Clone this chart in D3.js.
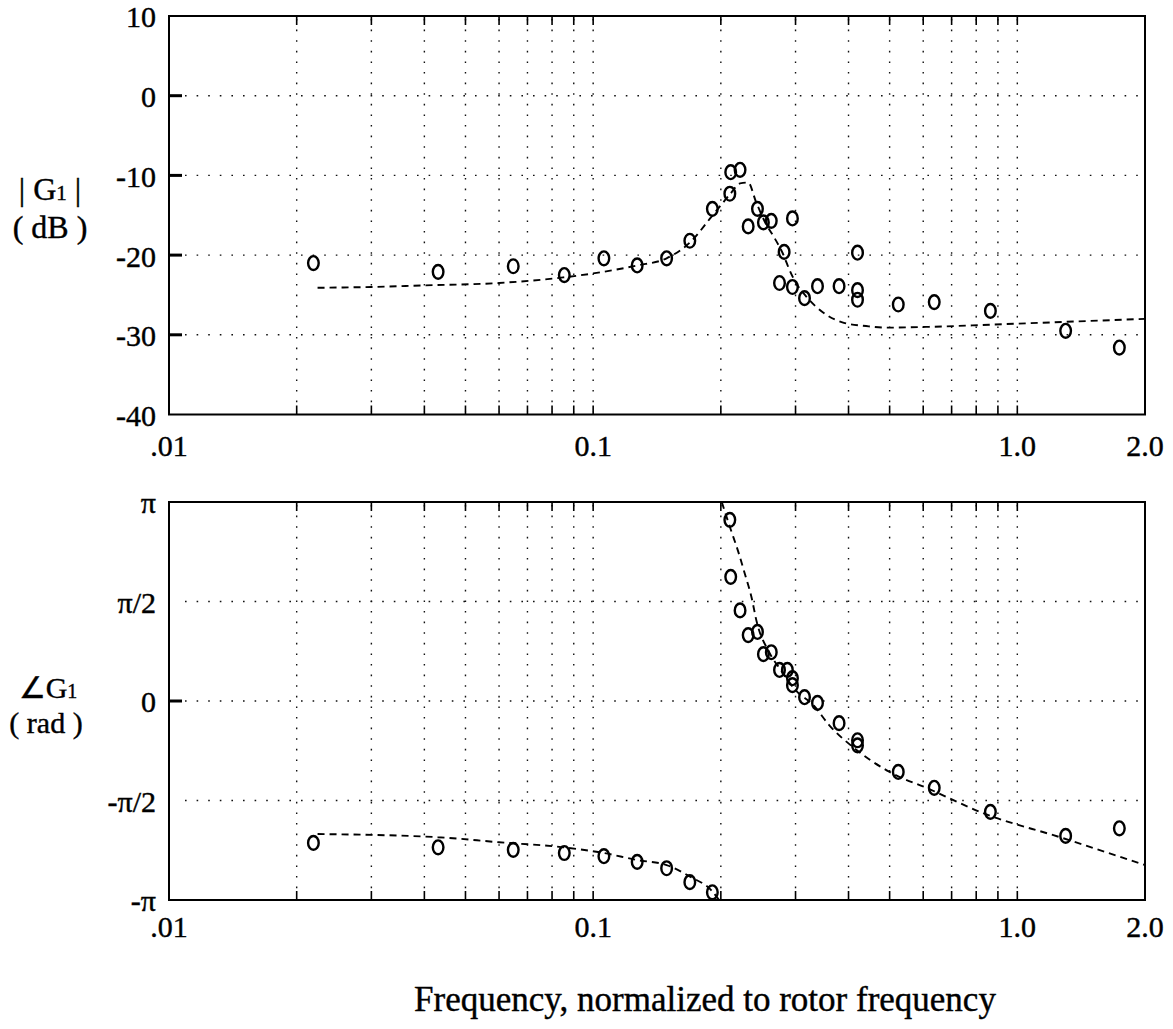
<!DOCTYPE html>
<html>
<head>
<meta charset="utf-8">
<script src="https://cdn.jsdelivr.net/npm/d3@7"></script>
<style>
    body { margin: 0; background: #fff; }
    text { font-family: "Liberation Serif", "Times New Roman", serif; fill: #000; stroke: #000; stroke-width: 0.4px; }
</style>
</head>
<body>
<svg id="chart" width="1173" height="1029"></svg>
<script>
// measured magnitude points
const magFreq = [0.0219, 0.0431, 0.0648, 0.0855, 0.106, 0.127, 0.149, 0.169, 0.191, 0.210, 0.211, 0.222,
    0.232, 0.244, 0.252, 0.263, 0.295, 0.282, 0.275, 0.295, 0.315, 0.338, 0.380, 0.42, 0.42, 0.42,
    0.524, 0.637, 0.864, 1.30, 1.74];
const magDb = [-21.0, -22.1, -21.4, -22.5, -20.4, -21.3, -20.4, -18.2, -14.2, -12.3, -9.6, -9.3,
    -16.4, -14.2, -15.9, -15.7, -15.4, -19.6, -23.5, -24.0, -25.4, -23.9, -23.9, -19.7, -24.4, -25.6,
    -26.2, -25.9, -27.0, -29.5, -31.6];

// model curve, magnitude
const magFitFreq = [0.0224, 0.03, 0.04, 0.06, 0.085, 0.1, 0.127, 0.149, 0.17, 0.19, 0.21, 0.222, 0.232,
    0.242, 0.255, 0.268, 0.28, 0.29, 0.30, 0.318, 0.355, 0.39, 0.44, 0.49, 0.62, 1.0, 2.0];
const magFitDb = [-24.1, -24.0, -23.8, -23.5, -22.8, -22.3, -21.3, -20.4, -18.3, -15.2, -12.4, -11.0, -10.9,
    -13.3, -16.0, -17.9, -19.8, -21.8, -23.4, -25.2, -27.5, -28.5, -28.9, -29.1, -29.0, -28.6, -28.0];

// measured phase points
const phaseFreq = [0.0219, 0.0431, 0.0648, 0.0855, 0.106, 0.127, 0.149, 0.169, 0.191,
    0.210, 0.211, 0.222, 0.232, 0.244, 0.252, 0.263, 0.275, 0.287, 0.295, 0.295, 0.315, 0.338,
    0.380, 0.42, 0.42, 0.524, 0.637, 0.864, 1.30, 1.74];
const phaseRad = [-2.24, -2.31, -2.35, -2.40, -2.45, -2.54, -2.64, -2.86, -3.02,
    2.86, 1.96, 1.43, 1.04, 1.09, 0.74, 0.77, 0.49, 0.49, 0.36, 0.25, 0.06, -0.03,
    -0.35, -0.62, -0.70, -1.12, -1.37, -1.75, -2.13, -2.01];

// model curve, phase (two branches, wrapped at -pi / +pi)
const phaseFitLowFreq = [0.0224, 0.043, 0.06, 0.085, 0.106, 0.127, 0.149, 0.17, 0.19, 0.198];
const phaseFitLowRad = [-2.10, -2.15, -2.23, -2.31, -2.40, -2.51, -2.59, -2.78, -2.99, -3.1416];
const phaseFitHighFreq = [0.201, 0.21, 0.22, 0.228, 0.236, 0.243, 0.26, 0.277, 0.30, 0.33, 0.36, 0.41,
    0.50, 0.62, 0.83, 1.26, 2.0];
const phaseFitHighRad = [3.1416, 2.75, 2.35, 2.0, 1.65, 1.25, 0.77, 0.49, 0.17, -0.06, -0.38, -0.73,
    -1.12, -1.39, -1.77, -2.15, -2.59];

// axes
const xMajorTicks = [0.01, 0.1, 1.0, 2.0];
const xMajorLabels = ['.01', '0.1', '1.0', '2.0'];
const xMinorTicks = [0.02, 0.03, 0.04, 0.05, 0.06, 0.07, 0.08, 0.09, 0.1,
    0.2, 0.3, 0.4, 0.5, 0.6, 0.7, 0.8, 0.9, 1.0];
const magTicks = [10, 0, -10, -20, -30, -40];
const magTickLabels = ['10', '0', '-10', '-20', '-30', '-40'];
const phaseTicks = [Math.PI, Math.PI / 2, 0, -Math.PI / 2, -Math.PI];
const phaseTickLabels = ['\u03c0', '\u03c0/2', '0', '-\u03c0/2', '-\u03c0'];
const phaseTickMarks = [0];

const svg = d3.select('#chart');

const x = d3.scaleLog().domain([0.01, 2.0]).range([169, 1145]);

function drawPanel(opts) {
    const y = d3.scaleLinear().domain(opts.domain).range(opts.range);
    const g = svg.append('g');
    const [x0, x1] = x.range();
    const [yb, yt] = opts.range;

    // dotted grid
    g.selectAll('.vgrid')
        .data(xMinorTicks)
        .enter().append('line')
        .attr('x1', d => x(d)).attr('x2', d => x(d))
        .attr('y1', yt + 3).attr('y2', yb - 3)
        .attr('stroke', '#111')
        .attr('stroke-width', 1.4)
        .attr('stroke-dasharray', '1.6,9');

    g.selectAll('.hgrid')
        .data(opts.ticks.slice(1, -1))
        .enter().append('line')
        .attr('x1', x0 + 16).attr('x2', x1 - 4)
        .attr('y1', d => y(d)).attr('y2', d => y(d))
        .attr('stroke', '#111')
        .attr('stroke-width', 1.4)
        .attr('stroke-dasharray', '1.6,10');

    // x ticks, bottom and top
    xMinorTicks.forEach(t => {
        g.append('line')
            .attr('x1', x(t)).attr('x2', x(t))
            .attr('y1', yb).attr('y2', yb - 9)
            .attr('stroke', '#000').attr('stroke-width', 1.6);
        g.append('line')
            .attr('x1', x(t)).attr('x2', x(t))
            .attr('y1', yt).attr('y2', yt + 9)
            .attr('stroke', '#000').attr('stroke-width', 1.6);
    });

    // y ticks (left side only)
    opts.tickMarks.forEach(t => {
        g.append('line')
            .attr('x1', x0).attr('x2', x0 + 13)
            .attr('y1', y(t)).attr('y2', y(t))
            .attr('stroke', '#000').attr('stroke-width', 3);
    });

    // frame
    g.append('rect')
        .attr('x', x0).attr('y', yt)
        .attr('width', x1 - x0).attr('height', yb - yt)
        .attr('fill', 'none')
        .attr('stroke', '#000')
        .attr('stroke-width', 2);

    // tick labels
    g.selectAll('.ylab')
        .data(opts.ticks)
        .enter().append('text')
        .attr('x', x0 - 13)
        .attr('y', d => y(d))
        .attr('dy', '0.38em')
        .attr('text-anchor', 'end')
        .style('font-size', '30px')
        .text((d, i) => opts.tickLabels[i]);

    g.selectAll('.xlab')
        .data(xMajorTicks)
        .enter().append('text')
        .attr('x', d => x(d))
        .attr('y', yb + opts.xLabelOffset)
        .attr('text-anchor', 'middle')
        .style('font-size', '30px')
        .text((d, i) => xMajorLabels[i]);

    // model curves (dashed)
    const line = d3.line()
        .x(d => x(d[0]))
        .y(d => y(d[1]))
        .curve(d3.curveMonotoneX);

    opts.fits.forEach(f => {
        g.append('path')
            .datum(d3.zip(f[0], f[1]))
            .attr('d', line)
            .attr('fill', 'none')
            .attr('stroke', '#000')
            .attr('stroke-width', 1.9)
            .attr('stroke-dasharray', '7,5');
    });

    // measured points
    g.selectAll('.pt')
        .data(d3.zip(opts.freq, opts.vals))
        .enter().append('ellipse')
        .attr('cx', d => x(d[0]))
        .attr('cy', d => y(d[1]))
        .attr('rx', 5.3)
        .attr('ry', 6.9)
        .attr('fill', 'none')
        .attr('stroke', '#000')
        .attr('stroke-width', 2.4);

    return y;
}

drawPanel({
    domain: [-40, 10], range: [414.5, 16],
    ticks: magTicks, tickLabels: magTickLabels, tickMarks: magTicks.slice(1, -1),
    xLabelOffset: 41,
    fits: [[magFitFreq, magFitDb]],
    freq: magFreq, vals: magDb
});

drawPanel({
    domain: [-Math.PI, Math.PI], range: [900, 502],
    ticks: phaseTicks, tickLabels: phaseTickLabels, tickMarks: phaseTickMarks,
    xLabelOffset: 37,
    fits: [[phaseFitLowFreq, phaseFitLowRad], [phaseFitHighFreq, phaseFitHighRad]],
    freq: phaseFreq, vals: phaseRad
});

// y axis titles
const magTitle = svg.append('text')
    .attr('x', 50).attr('y', 200)
    .attr('text-anchor', 'middle')
    .style('font-size', '32px');
magTitle.append('tspan').text('| G');
magTitle.append('tspan').style('font-size', '21px').text('1');
magTitle.append('tspan').text(' |');

svg.append('text')
    .attr('x', 50).attr('y', 238)
    .attr('text-anchor', 'middle')
    .style('font-size', '32px')
    .text('( dB )');

const phaseTitle = svg.append('text')
    .attr('x', 48).attr('y', 698)
    .attr('text-anchor', 'middle')
    .style('font-size', '30px');
phaseTitle.append('tspan').text('\u2220G');
phaseTitle.append('tspan').style('font-size', '20px').text('1');

svg.append('text')
    .attr('x', 46).attr('y', 733)
    .attr('text-anchor', 'middle')
    .style('font-size', '30px')
    .text('( rad )');

// x axis title
svg.append('text')
    .attr('x', 705).attr('y', 1011)
    .attr('text-anchor', 'middle')
    .style('font-size', '35px')
    .text('Frequency, normalized to rotor frequency');
</script>
</body>
</html>
